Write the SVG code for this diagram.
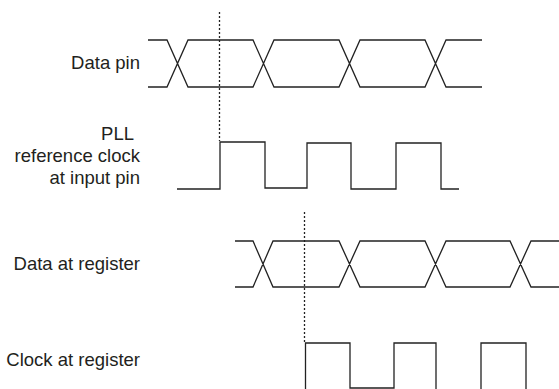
<svg xmlns="http://www.w3.org/2000/svg" width="559" height="389" viewBox="0 0 559 389">
<style>
.lbl{font-family:"Liberation Sans",Arial,Helvetica,sans-serif;font-size:18.5px;fill:#231f20;text-anchor:end}
.wave{fill:none;stroke:#222;stroke-width:1.3;stroke-linejoin:miter}
.dash{fill:none;stroke:#222;stroke-width:1.3;stroke-dasharray:2,2}
</style>
<rect width="559" height="389" fill="#fff"/>
<g id="data-pin">
<text class="lbl" x="140" y="69">Data pin</text>
<path class="wave" d="M148,40 H167 L188,87 H253 L274,40 H339 L360,87 H425 L446,40 H482 M148,87 H167 L188,40 H253 L274,87 H339 L360,40 H425 L446,87 H482"/>
</g>
<g id="pll-ref-clock">
<text class="lbl" x="134" y="140">PLL</text>
<text class="lbl" x="140" y="162">reference clock</text>
<text class="lbl" x="140" y="184">at input pin</text>
<path class="wave" d="M177,189 H220 V142 H265 V188 H307 V143 H351 V189 H396 V143 H441 V189 H459"/>
</g>
<g id="data-at-register">
<text class="lbl" x="140" y="270">Data at register</text>
<path class="wave" d="M235,241 H253 L273,287 H339 L360,241 H425 L446,287 H510 L531,241 H559 M235,287 H253 L273,241 H339 L360,287 H425 L446,241 H510 L531,287 H559"/>
</g>
<g id="clock-at-register">
<text class="lbl" x="140" y="366">Clock at register</text>
<path class="wave" d="M305.5,392 V343 H350 V388 H394 V343 H436 V392 M481,392 V343 H526 V392"/>
</g>
<g id="connectors">
<line class="dash" x1="219.5" y1="12" x2="219.5" y2="141"/>
<line class="dash" x1="304.5" y1="212" x2="304.5" y2="342"/>
</g>
</svg>
